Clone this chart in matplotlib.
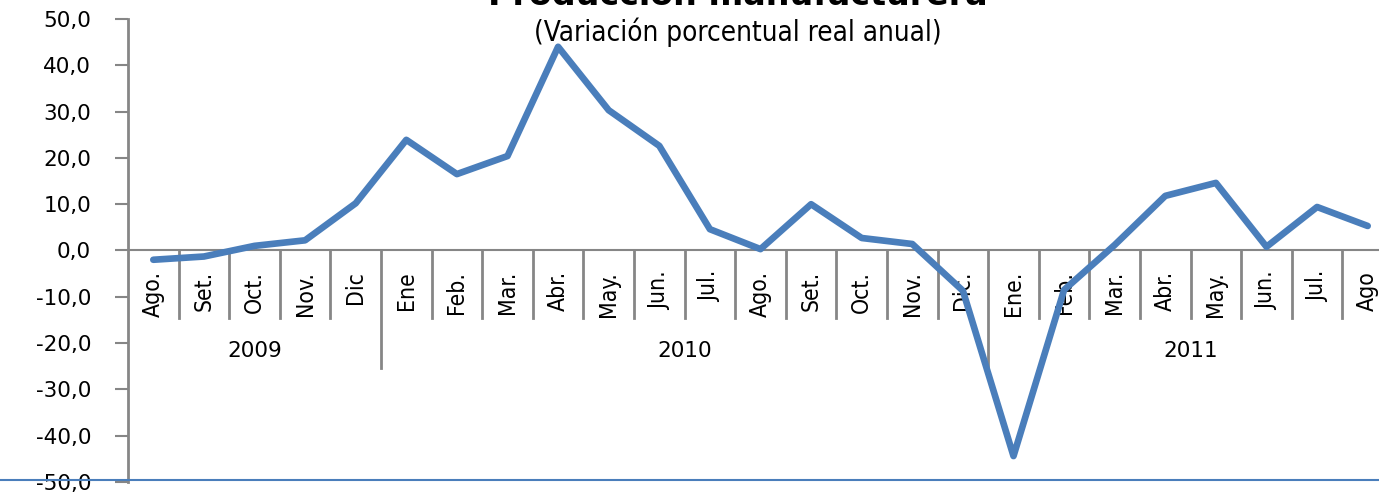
import matplotlib
matplotlib.use("Agg")
import matplotlib.pyplot as plt
from matplotlib.lines import Line2D

months = ["Ago.", "Set.", "Oct.", "Nov.", "Dic",
          "Ene", "Feb.", "Mar.", "Abr.", "May.", "Jun.", "Jul.", "Ago.", "Set.", "Oct.", "Nov.", "Dic.",
          "Ene.", "Feb.", "Mar.", "Abr.", "May.", "Jun.", "Jul.", "Ago"]
years = ["2009", "2010", "2011"]
year_counts = [5, 12, 8]
values = [-2.0, -1.3, 1.0, 2.2, 10.2,
          23.9, 16.5, 20.4, 44.0, 30.3, 22.6, 4.6, 0.3, 10.0, 2.7, 1.4, -8.7,
          -44.4, -8.5, 1.2, 11.8, 14.6, 0.8, 9.4, 5.3]

LINE = "#4A7EBB"
GRAY = "#868686"

fig = plt.figure(figsize=(13.79, 4.92), dpi=100)
ax = fig.add_axes([128 / 1379, 1 - 482 / 492, 1265 / 1379, 463 / 492])

x = list(range(len(values)))
ax.plot(x, values, color=LINE, lw=4.8, solid_joinstyle="round", solid_capstyle="round", zorder=5)

ax.set_xlim(-0.5, len(values) - 0.5)
ax.set_ylim(-50, 50)
ax.set_yticks(range(-50, 51, 10))
ax.set_yticklabels([f"{v:.1f}".replace(".", ",") for v in range(-50, 51, 10)], fontsize=15.5)
ax.tick_params(axis="y", direction="out", length=9.5, width=1.5, color=GRAY, pad=17)
ax.set_xticks([])
for side in ["top", "right", "bottom"]:
    ax.spines[side].set_visible(False)
ax.spines["left"].set_color(GRAY)
ax.spines["left"].set_linewidth(2)
ax.axhline(0, color=GRAY, lw=1.5, zorder=2)

# category separators and labels
year_edges = [0]
for c in year_counts:
    year_edges.append(year_edges[-1] + c)
for i in range(1, len(values)):
    bottom = -25.3 if i in year_edges else -14.5
    ax.plot([i - 0.5, i - 0.5], [0, bottom], color=GRAY, lw=2, zorder=2, clip_on=False)
for i, m in enumerate(months):
    ax.text(i, -4.4, m, rotation=90, ha="center", va="top", fontsize=16.5, fontstretch="condensed",
            family="DejaVu Sans", zorder=3, clip_on=False)
for k, yr in enumerate(years):
    xc = (year_edges[k] + year_edges[k + 1]) / 2 - 0.5
    ax.text(xc, -21.7, yr, ha="center", va="center", fontsize=15.5)

# title sits mostly above the canvas, as in the source image
fig.text(0.535, 0.990, "Producción manufacturera", ha="center", va="baseline", fontsize=24, fontweight="bold")
fig.text(0.535, 0.935, "(Variación porcentual real anual)", ha="center", va="center", fontsize=20,
         fontstretch="condensed", family="DejaVu Sans")

fig.add_artist(Line2D([0, 1], [1 - 480 / 492] * 2, color=LINE, lw=1.5, transform=fig.transFigure))

fig.savefig("out.png", dpi=100)
